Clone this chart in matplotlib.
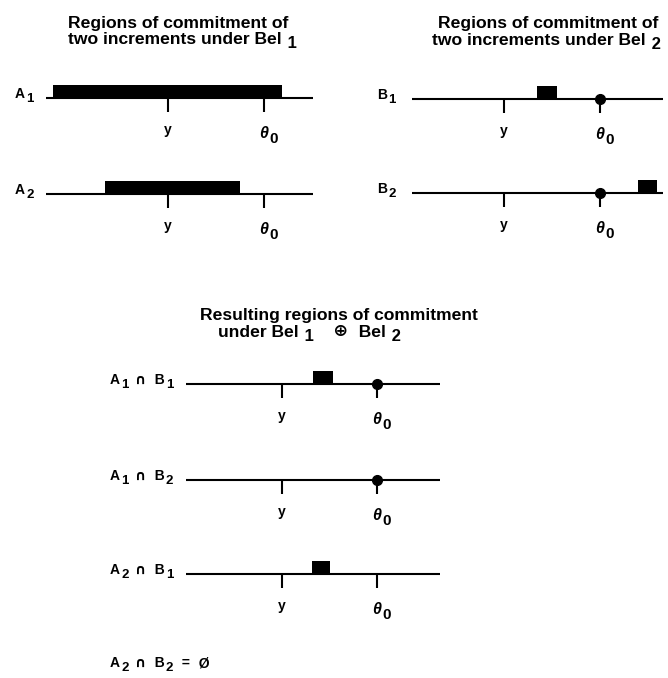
"""
Regions of commitment under Bel1, Bel2 and their combination Bel1 (+) Bel2.
Each row is a line along the parameter axis with the committed interval drawn
as a black box; y and theta0 are marked with ticks.
"""

import matplotlib
matplotlib.use("Agg")
import matplotlib.pyplot as plt

W, H, DPI = 668, 678, 100
PX = 72 / DPI  # one pixel in points
FONT = ["Liberation Sans", "DejaVu Sans"]
SYMBOL_FONT = ["DejaVu Sans"]
SYMBOLS = "\u2229\u2295"

# positions on the parameter axis (units: y = 0, theta0 = 1)
Y_POS = 0.0
THETA0_POS = 1.0

# row labels: pieces starting with "_" are subscripts
row_labels = [
    ["A", "_1"],
    ["A", "_2"],
    ["B", "_1"],
    ["B", "_2"],
    ["A", "_1", " \u2229", "  B", "_1"],
    ["A", "_1", " \u2229", "  B", "_2"],
    ["A", "_2", " \u2229", "  B", "_1"],
]
# committed interval for each row (None = nothing but the point theta0)
row_regions = [
    (-1.20, 1.19),
    (-0.66, 0.75),
    (0.34, 0.55),
    (1.40, 1.59),
    (0.33, 0.54),
    None,
    (0.32, 0.51),
]
# whether theta0 itself carries commitment (drawn as a dot)
row_theta_dot = [False, False, True, True, True, True, False]
# extent of the drawn axis line
row_extent = [
    (-1.28, 1.52),
    (-1.28, 1.52),
    (-0.96, 1.66),
    (-0.96, 1.66),
    (-1.01, 1.66),
    (-1.01, 1.66),
    (-1.01, 1.66),
]

titles = [
    ["Regions of commitment of"],
    ["two increments under Bel", "_ 1"],
    ["Regions of commitment of"],
    ["two increments under Bel", "_ 2"],
    ["Resulting regions of commitment"],
    ["under Bel", "_ 1", "   \u2295", "  Bel", "_ 2"],
]
empty_label = ["A", "_2", " \u2229", "  B", "_2", "  =", "  \u00d8"]

# layout (pixels): panel -> x of y, pixels per unit, label left x
panels = {"left": (168, 95.5, 15), "right": (504, 96, 377), "bottom": (282, 95, 110)}
row_panel = ["left", "left", "right", "right", "bottom", "bottom", "bottom"]
row_base = [98, 194, 99, 193, 384, 480, 574]
title_pos = [(68, 28), (68, 44), (438, 28), (432, 45), (200, 320), (218, 337)]
empty_pos = (110, 667)

BOX_H = 13
TICK = 14
BELOW, ABOVE = 50, 20


def write(ax, xy, pieces, size, drop=3.0, ha="left", offset=(0, 0),
          first_kw=None):
    """Draw text pieces one after another; '_' pieces are lowered subscripts."""
    prev = None
    level = 0
    for s in pieces:
        sub = s.startswith("_")
        text = s[1:] if sub else s
        kw = dict(fontsize=size * (0.95 if sub else 1.0), weight="bold",
                  color="black")
        kw["family"] = SYMBOL_FONT if any(c in SYMBOLS for c in text) else FONT
        new_level = -1 if sub else 0
        if prev is None:
            kw.update(first_kw or {})
            prev = ax.annotate(text, xy=xy, xycoords="data", xytext=offset,
                               textcoords="offset points", ha=ha,
                               va="baseline", **kw)
        else:
            prev = ax.annotate(text, xy=(1, 0), xycoords=prev,
                               xytext=(0.8, (new_level - level) * drop),
                               textcoords="offset points", ha="left",
                               va="bottom", **kw)
        level = new_level
    return prev


def main():
    fig = plt.figure(figsize=(W / DPI, H / DPI), dpi=DPI)
    base = fig.add_axes([0, 0, 1, 1])
    base.set_xlim(0, W)
    base.set_ylim(H, 0)
    base.axis("off")

    for lines, pos in zip(titles, title_pos):
        write(base, pos, lines, 12.6)

    for i, label in enumerate(row_labels):
        x0, unit, lab_x = panels[row_panel[i]]
        lo, hi = row_extent[i]
        yb = row_base[i]
        rect = [(x0 + unit * lo) / W, (H - yb - BELOW) / H,
                unit * (hi - lo) / W, (BELOW + ABOVE) / H]
        ax = fig.add_axes(rect)
        ax.set_xlim(lo, hi)
        ax.set_ylim(-BELOW, ABOVE)
        ax.axis("off")

        ax.plot([lo, hi], [0, 0], color="black", lw=1.5, solid_capstyle="butt")
        if row_regions[i] is not None:
            r0, r1 = row_regions[i]
            ax.bar(r0, BOX_H, width=r1 - r0, align="edge", color="black",
                   linewidth=0)
        ax.vlines([Y_POS, THETA0_POS], -TICK, 0, color="black", lw=1.5)
        if row_theta_dot[i]:
            ax.plot(THETA0_POS, 0, "o", color="black", ms=7, clip_on=False)

        write(ax, (Y_POS, 0), ["y"], 10, ha="center", offset=(0, -36 * PX))
        write(ax, (THETA0_POS, 0), ["\u03b8", "_0"], 11.5, ha="center",
              offset=(0, -40 * PX), drop=3.5, first_kw=dict(fontstyle="italic"))

        write(base, (lab_x, yb), label, 10)

    write(base, empty_pos, empty_label, 10)

    fig.savefig("out.png", dpi=DPI)
    plt.close(fig)


if __name__ == "__main__":
    main()
